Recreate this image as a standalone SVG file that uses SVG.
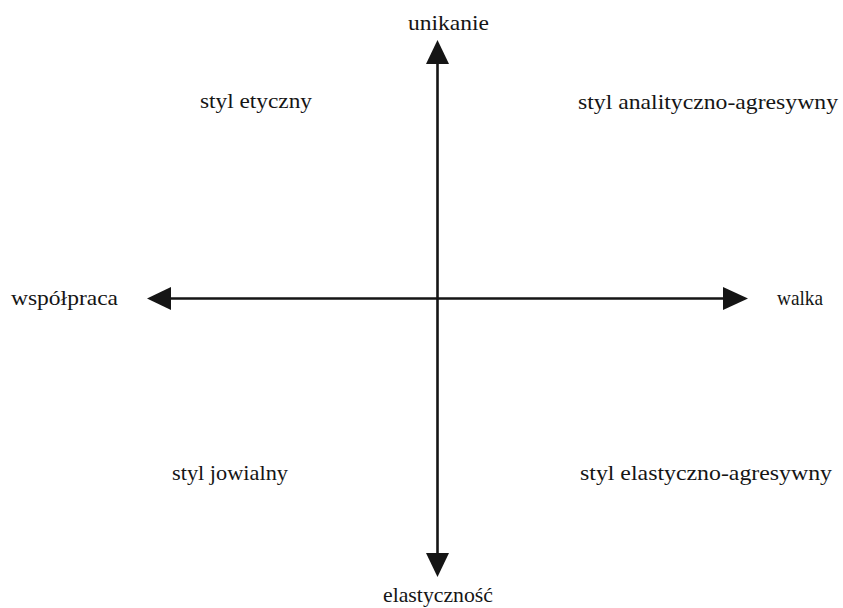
<svg xmlns="http://www.w3.org/2000/svg" width="843" height="608" viewBox="0 0 843 608">
<style>
.ax{stroke:#151515;stroke-width:2.6;fill:none}
.hd{fill:#151515}
</style>
<rect width="843" height="608" fill="#fff"/>
<g id="connectors">
<line class="ax" x1="437.5" y1="60" x2="437.5" y2="556"/>
<line class="ax" x1="166" y1="298.5" x2="728" y2="298.5"/>
<polygon class="hd" points="437.5,40 426,64 449,64"/>
<polygon class="hd" points="437.5,577 426,553 449,553"/>
<polygon class="hd" points="147,298.5 171,287 171,310"/>
<polygon class="hd" points="748,298.5 723,287 723,310"/>
</g>
<g font-family="Liberation Serif, DejaVu Serif, serif" font-size="22" fill="#151515">
<g id="unikanie"><text x="408" y="30" textLength="81" lengthAdjust="spacingAndGlyphs">unikanie</text></g>
<g id="elastycznosc"><text x="383" y="602" textLength="110" lengthAdjust="spacingAndGlyphs">elastyczność</text></g>
<g id="wspolpraca"><text x="11" y="305" textLength="107" lengthAdjust="spacingAndGlyphs">współpraca</text></g>
<g id="walka"><text x="777" y="305" textLength="46" lengthAdjust="spacingAndGlyphs">walka</text></g>
<g id="styl-etyczny"><text x="200" y="108" textLength="112" lengthAdjust="spacingAndGlyphs">styl etyczny</text></g>
<g id="styl-analityczno-agresywny"><text x="578" y="109" textLength="260" lengthAdjust="spacingAndGlyphs">styl analityczno-agresywny</text></g>
<g id="styl-jowialny"><text x="172" y="480" textLength="116" lengthAdjust="spacingAndGlyphs">styl jowialny</text></g>
<g id="styl-elastyczno-agresywny"><text x="580" y="480" textLength="252" lengthAdjust="spacingAndGlyphs">styl elastyczno-agresywny</text></g>
</g>
</svg>
